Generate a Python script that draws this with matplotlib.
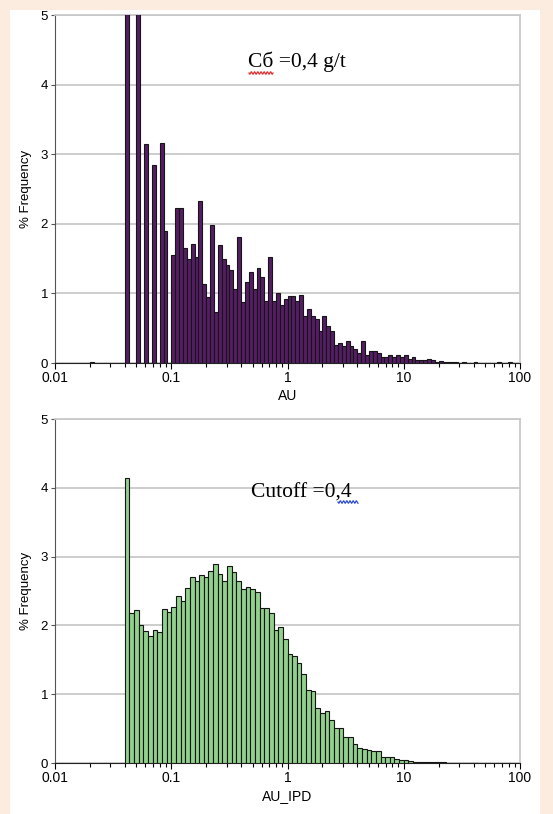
import numpy as np
import matplotlib
matplotlib.use("Agg")
import matplotlib.pyplot as plt
from matplotlib.lines import Line2D
from matplotlib.patches import Rectangle

# ---------------- data ----------------
# Top histogram (AU): log bins, 30 per decade starting at 0.01
au_bins_per_decade = 30
au_first_bin = 9
au_freq = [0.02, 0, 0, 0, 0, 0, 0, 0, 0,                       # 9-17
           6.8, 0, 0, 6.2, 0, 3.14, 0, 2.84, 0, 3.16, 1.89, 0,  # 18-29
           1.55, 2.23, 2.23, 1.65, 1.49, 1.71, 1.52, 2.33, 1.13, 0.95,
           1.98, 0.73, 1.70, 1.50, 1.41, 1.34, 1.06, 1.81, 0.88, 1.17,
           1.31, 1.06, 1.36, 1.23, 0.89, 1.52, 0.89, 1.01, 0.83, 0.92,
           0.96, 0.96, 0.89, 0.97, 0.68, 0.78, 0.68, 0.63, 0.46, 0.67,
           0.53, 0.46, 0.26, 0.29, 0.24, 0.32, 0.24, 0.20, 0.15, 0.32,
           0.12, 0.17, 0.17, 0.15, 0.08, 0.08, 0.12, 0.09, 0.12, 0.08,
           0.11, 0.06, 0.09, 0.05, 0.05, 0.04, 0.06, 0.04, 0.02, 0.03,
           0.02, 0.01, 0.015, 0.01, 0, 0.008, 0, 0, 0.008, 0,
           0, 0, 0, 0, 0.01, 0, 0, 0.008]

# Bottom histogram (AU_IPD): log bins, 25 per decade starting at 0.01
ipd_bins_per_decade = 25
ipd_first_bin = 15
ipd_freq = [4.14, 2.18, 2.23, 2.01, 1.92, 1.84, 1.93, 1.91, 2.24, 2.19,
            2.27, 2.43, 2.35, 2.54, 2.71, 2.64, 2.73, 2.70, 2.79, 2.89,
            2.75, 2.65, 2.87, 2.77, 2.65, 2.53, 2.56, 2.53, 2.48, 2.25,
            2.25, 2.18, 1.93, 1.97, 1.80, 1.59, 1.56, 1.45, 1.30, 1.06,
            1.05, 0.80, 0.72, 0.76, 0.63, 0.51, 0.51, 0.38, 0.38, 0.27,
            0.22, 0.20, 0.19, 0.18, 0.18, 0.09, 0.09, 0.08, 0.06, 0.04,
            0.05, 0.03, 0.02, 0.015, 0.015, 0.01, 0.01, 0.008, 0.008, 0.006,
            0.005, 0.005, 0.004, 0.004, 0.003, 0.003]

x_ticks = [0.01, 0.1, 1, 10, 100]
x_tick_labels = ["0.01", "0.1", "1", "10", "100"]
y_ticks = [0, 1, 2, 3, 4, 5]

top_title = "Cб =0,4 g/t"
bottom_title = "Cutoff =0,4"
top_xlabel = "AU"
bottom_xlabel = "AU_IPD"
ylabel = "% Frequency"

# ---------------- figure ----------------
W, H = 553, 814
fig = plt.figure(figsize=(W / 100, H / 100), dpi=100)
fig.patch.set_facecolor("#fcebdf")
fig.add_artist(Rectangle((10 / W, 0), 530 / W, (H - 10) / H,
                         transform=fig.transFigure, facecolor="white",
                         edgecolor="none", zorder=0))

tick_font = ["Liberation Sans Narrow", "Liberation Sans", "DejaVu Sans"]
serif_font = ["Liberation Serif", "DejaVu Serif"]


def px_axes(left, top, right, bottom):
    return fig.add_axes([left / W, (H - bottom) / H,
                         (right - left) / W, (bottom - top) / H])


def draw_hist(ax, freq, first_bin, per_decade, color):
    k = np.arange(first_bin, first_bin + len(freq))
    lefts = 0.01 * 10 ** (k / per_decade)
    rights = 0.01 * 10 ** ((k + 1) / per_decade)
    f = np.array(freq, dtype=float)
    m = f > 0
    ax.bar(lefts[m], f[m], width=(rights - lefts)[m], align="edge",
           color=color, edgecolor="#151515", linewidth=0.8, zorder=3)


def style(ax, xlabel):
    ax.set_xscale("log")
    ax.set_xlim(0.01, 100)
    ax.set_ylim(0, 5)
    ax.set_yticks(y_ticks)
    ax.set_yticklabels([str(v) for v in y_ticks], family=tick_font, fontsize=9.5)
    ax.set_xticks(x_ticks)
    ax.set_xticklabels(x_tick_labels, family=tick_font, fontsize=10)
    ax.grid(axis="y", color="#c9c9c9", linewidth=1.3, zorder=0)
    ax.set_axisbelow(True)
    for s in ("top", "right"):
        ax.spines[s].set_color("#c9c9c9")
        ax.spines[s].set_linewidth(1.3)
    ax.spines["left"].set_color("#555555")
    ax.spines["bottom"].set_color("#222222")
    ax.tick_params(axis="y", length=3, width=0.8, color="#555555", pad=2)
    ax.tick_params(axis="x", which="major", length=4, width=0.8, pad=2)
    ax.tick_params(axis="x", which="minor", length=3, width=0.8)
    ax.set_xlabel(xlabel, family=tick_font, fontsize=10, labelpad=3)
    ax.set_ylabel(ylabel, family=tick_font, fontsize=9.5, labelpad=6)


ax1 = px_axes(55, 15, 520, 363)
draw_hist(ax1, au_freq, au_first_bin, au_bins_per_decade, "#561d66")
style(ax1, top_xlabel)
ax1.text(0.52, 0.865, top_title, transform=ax1.transAxes, ha="center",
         va="center", family=serif_font, fontsize=15.5)

ax2 = px_axes(55, 419, 520, 763)
draw_hist(ax2, ipd_freq, ipd_first_bin, ipd_bins_per_decade, "#92d08d")
style(ax2, bottom_xlabel)
ax2.text(0.53, 0.785, bottom_title, transform=ax2.transAxes, ha="center",
         va="center", family=serif_font, fontsize=15.5)


def wavy(x0, x1, y, color):
    xs = np.linspace(x0, x1, 60)
    ys = y + 1.2 * np.sin((xs - x0) / 1.6 * np.pi)
    fig.add_artist(Line2D(xs / W, (H - ys) / H, transform=fig.transFigure,
                          color=color, linewidth=0.9, zorder=5))


wavy(249, 273, 73, "#e03030")
wavy(338, 358, 502, "#3050d0")

fig.savefig("out.png", dpi=100, facecolor=fig.get_facecolor())
